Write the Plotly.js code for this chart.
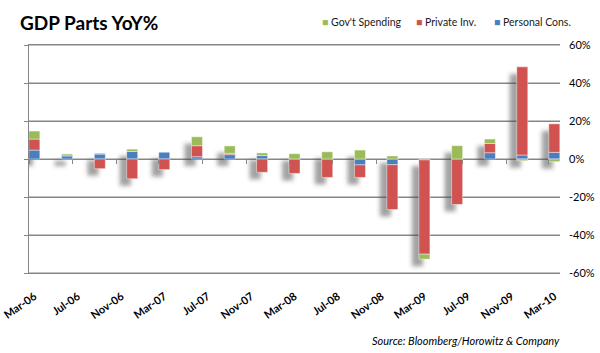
<!DOCTYPE html>
<html>
<head>
<meta charset="utf-8">
<script src="https://cdn.plot.ly/plotly-3.0.1.min.js"></script>
<style>
  html, body { margin: 0; padding: 0; background: #ffffff; }
  #chart { width: 600px; height: 353px; }
</style>
</head>
<body>
<div id="chart"></div>
<script>
// ---- data (YoY %, quarterly) ----
var quarters = ['2006-03-16','2006-06-16','2006-09-16','2006-12-16',
                '2007-03-16','2007-06-16','2007-09-16','2007-12-16',
                '2008-03-16','2008-06-16','2008-09-16','2008-12-16',
                '2009-03-16','2009-06-16','2009-09-16','2009-12-16',
                '2010-03-16'];
var personalCons = [4.7, 1.6, 2.6, 4.0, 3.7, 1.2, 2.3, 1.8, 0, 0, -3.1, -3.0, -0.5, 0, 3.3, 2.1, 3.5];
var privateInv   = [5.8, 0.5, -5.1, -10.4, -5.6, 5.8, 0.7, -7.0, -7.6, -9.7, -6.6, -23.6, -49.6, -23.9, 4.9, 46.4, 15.0];
var govSpending  = [4.2, 0.6, 0.5, 1.2, 0, 4.7, 3.9, 1.4, 2.8, 3.8, 4.7, 1.6, -2.6, 7.0, 2.3, -0.9, -1.4];
var seriesNames  = ["Personal Cons.", "Private Inv.", "Gov't Spending"];
var yTickVals    = [-60, -40, -20, 0, 20, 40, 60];
var yTickText    = ['-60%', '-40%', '-20%', '0%', '20%', '40%', '60%'];

// ---- styling ----
var DAY = 86400000;
var barWidth = 31 * DAY;
var colors = ['#4a7ebf', '#d05352', '#9bbb59'];
var gridColor = '#868686';
var FONT = 'Lato, "Open Sans", Arial, sans-serif';
var shadowDrop = 3.7;          // ~7px downward drop, in axis units
var shadowShift = -35 * DAY;   // ~7px to the left

// shadow extents derived from the stacked data
var series = [personalCons, privateInv, govSpending];
var stackMin = quarters.map(function (q, i) {
  return series.reduce(function (s, arr) { return s + Math.min(arr[i], 0); }, 0);
});
var stackLen = quarters.map(function (q, i) {
  var pos = series.reduce(function (s, arr) { return s + Math.max(arr[i], 0); }, 0);
  return pos - stackMin[i];
});

var data = [{
  type: 'bar', name: 'shadow', x: quarters, y: stackLen,
  base: stackMin.map(function (v) { return v - shadowDrop; }),
  width: barWidth, offset: shadowShift,
  marker: { color: 'rgba(70,70,70,0.5)', line: { width: 0 } }, showlegend: false, hoverinfo: 'skip'
}];
series.forEach(function (vals, k) {
  data.push({
    type: 'bar', name: seriesNames[k], x: quarters, y: vals, width: barWidth,
    marker: { color: colors[k], line: { color: 'rgba(255,255,255,0.55)', width: 0.8 } },
    showlegend: false
  });
});
// carrier for the right-hand labels axis and the zero-line tick marks
data.push({
  type: 'scatter', mode: 'markers', x: [quarters[0]], y: [null],
  xaxis: 'x2', yaxis: 'y2', showlegend: false, hoverinfo: 'skip'
});

// horizontal grid lines at every tick value (incl. the ±60% frame lines)
var gridShapes = yTickVals.map(function (v) {
  return {
    type: 'line', xref: 'paper', x0: 0, x1: 1, yref: 'y', y0: v, y1: v,
    line: { color: gridColor, width: 1 }, layer: 'below'
  };
});

// legend built from coloured square glyphs
var legendItems = [
  { name: seriesNames[2], color: colors[2], x: 320 },
  { name: seriesNames[1], color: colors[1], x: 414 },
  { name: seriesNames[0], color: colors[0], x: 492 }
];
var annotations = legendItems.map(function (it) {
  return {
    text: '<span style="color:' + it.color + '">■</span> ' + it.name,
    xref: 'paper', yref: 'paper', x: (it.x - 29) / 531, xanchor: 'left',
    y: 1.101, yanchor: 'middle', showarrow: false,
    font: { family: FONT, size: 10.5, color: '#1a1a1a' }
  };
});
annotations.push({
  text: 'Source: Bloomberg/Horowitz &amp; Company', xref: 'paper', yref: 'paper',
  x: 1.004, xanchor: 'right', y: -0.298, yanchor: 'middle', showarrow: false,
  font: { family: FONT, size: 11, style: 'italic', color: '#000000' }
});

var layout = {
  width: 600, height: 353,
  margin: { l: 29, r: 40, t: 45, b: 80 },
  paper_bgcolor: '#ffffff', plot_bgcolor: '#ffffff',
  barmode: 'relative',
  font: { family: FONT, size: 11, color: '#000000' },
  title: {
    text: 'GDP Parts YoY%', x: 20 / 600, xanchor: 'left', xref: 'container',
    y: 1 - 23 / 353, yanchor: 'middle', yref: 'container',
    font: { family: FONT, size: 19, weight: 700, color: '#000000' }
  },
  showlegend: false,
  xaxis: {
    type: 'date', range: ['2006-03-01', '2010-04-01'],
    tick0: '2006-03-16', dtick: 'M4', tickformat: '%b-%y', tickangle: -35,
    showgrid: false, zeroline: false, ticks: '',
    showline: true, mirror: true, linecolor: gridColor, linewidth: 1,
    ticklabelstandoff: 12,
    tickfont: { family: FONT, size: 11, weight: 700, color: '#000000' }
  },
  xaxis2: {
    type: 'date', overlaying: 'x', anchor: 'free', position: 0.5,
    range: ['2006-03-01', '2010-04-01'], tick0: '2006-03-01', dtick: 'M4',
    ticks: 'outside', ticklen: 4, tickcolor: gridColor, tickwidth: 1,
    showticklabels: false, showgrid: false, showline: false, zeroline: false
  },
  yaxis: {
    side: 'left', range: [-60, 60], tickvals: yTickVals, showticklabels: false,
    showgrid: true, gridcolor: gridColor, gridwidth: 1,
    zeroline: true, zerolinecolor: gridColor, zerolinewidth: 1,
    showline: true, linecolor: gridColor, linewidth: 1,
    ticks: 'outside', ticklen: 4, tickcolor: gridColor
  },
  yaxis2: {
    overlaying: 'y', side: 'right', anchor: 'x2',
    range: [-60, 60], tickvals: yTickVals, ticktext: yTickText,
    showgrid: false, zeroline: false, showline: false, ticks: '',
    ticklabelstandoff: 8,
    tickfont: { family: FONT, size: 11, color: '#000000' }
  },
  shapes: gridShapes,
  annotations: annotations
};

var gd = document.getElementById('chart');
Plotly.newPlot(gd, data, layout, { displayModeBar: false, staticPlot: true }).then(function () {
  var NS = 'http://www.w3.org/2000/svg';
  var svg = gd.querySelector('svg.main-svg');
  var defs = svg.querySelector('defs') || svg.insertBefore(document.createElementNS(NS, 'defs'), svg.firstChild);
  var f = document.createElementNS(NS, 'filter');
  f.setAttribute('id', 'shadowBlur');
  f.setAttribute('x', '-0.1'); f.setAttribute('y', '-0.1');
  f.setAttribute('width', '1.2'); f.setAttribute('height', '1.2');
  var b = document.createElementNS(NS, 'feGaussianBlur');
  b.setAttribute('stdDeviation', '2');
  f.appendChild(b); defs.appendChild(f);
  gd.querySelectorAll('g.trace.bars').forEach(function (g) {
    var d = g.__data__;
    if (d && d[0] && d[0].trace && d[0].trace.name === 'shadow') {
      g.setAttribute('filter', 'url(#shadowBlur)');
    }
  });
});
</script>
</body>
</html>
